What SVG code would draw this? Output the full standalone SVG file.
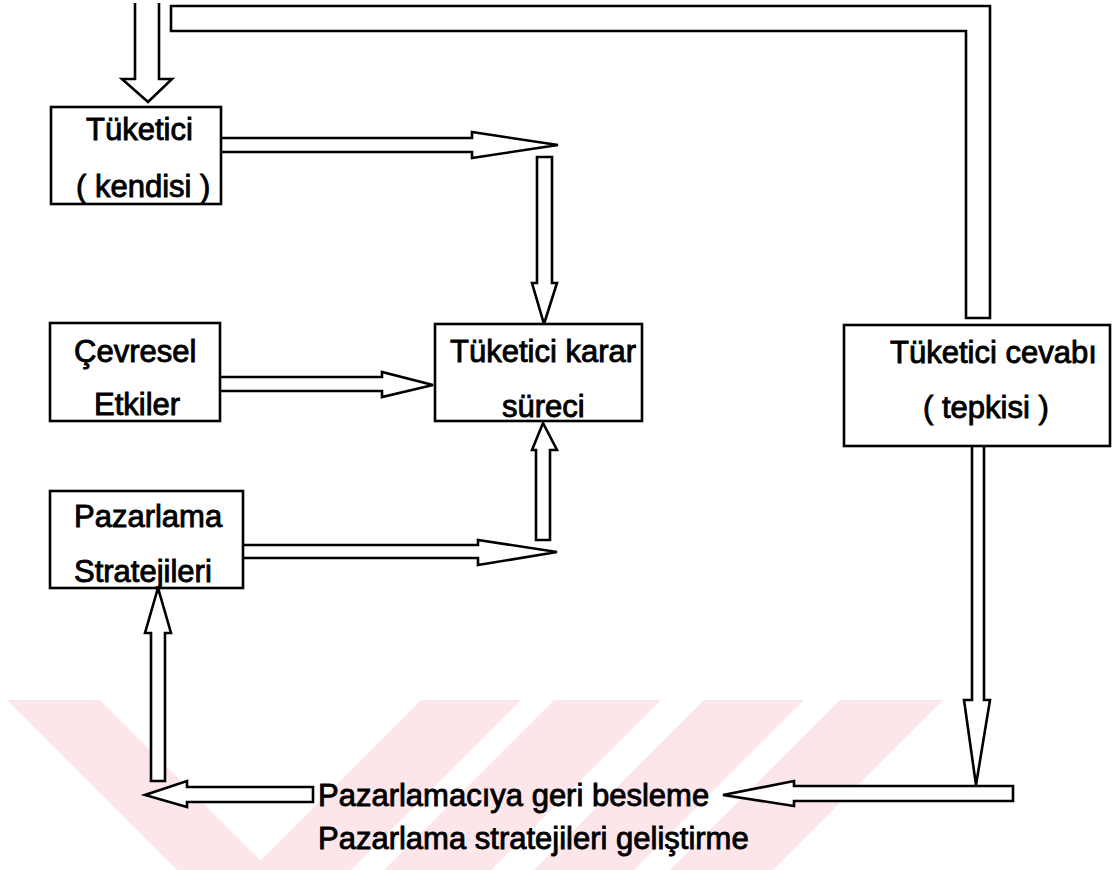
<svg xmlns="http://www.w3.org/2000/svg" width="1114" height="870" viewBox="0 0 1114 870">
  <style>
    .box { fill: #fff; stroke: #000; stroke-width: 2.6; }
    .arrow { fill: #fff; stroke: #000; stroke-width: 2.6; stroke-linejoin: miter; }
    .lbl { font-family: "Liberation Sans", Arial, sans-serif; font-size: 31px; fill: #000; stroke: #000; stroke-width: 0.9; }
    .mark { fill: #fde6ea; }
  </style>
  <rect width="1114" height="870" fill="#fff"/>

  <!-- background stripe pattern along the lower edge -->
  <g id="stripes">
    <polygon class="mark" points="7,700 100,700 270,870 177,870"/>
    <polygon class="mark" points="421,700 521,700 351,870 251,870"/>
    <polygon class="mark" points="554,700 661,700 491,870 384,870"/>
    <polygon class="mark" points="704,700 804,700 634,870 534,870"/>
    <polygon class="mark" points="840,700 943,700 773,870 670,870"/>
  </g>

  <!-- connectors: hollow block arrows -->
  <g id="connectors">
    <polygon class="arrow" points="171,6 990,6 990,318 966,318 966,31 171,31"/>
    <path class="arrow" d="M135,3 V79 H122 L148,102 L172,79 H159 V3"/>
    <path class="arrow" d="M221,138 H472 V132 L558,145 L472,158 V152 H221"/>
    <path class="arrow" d="M537,157 H552 V283 H557 L544,324 L532,283 H537 Z"/>
    <path class="arrow" d="M220,377 H382 V372 L433,385 L382,397 V391 H220"/>
    <path class="arrow" d="M243,545 H478 V540 L557,552 L478,565 V558 H243"/>
    <path class="arrow" d="M536,540 V450 H532 L543,423 L557,450 H550 V540 Z"/>
    <path class="arrow" d="M972,446 V700 H964 L976,785 L990,700 H984 V446"/>
    <path class="arrow" d="M1013,786 V801 H794 V806 L723,795 L794,781 V786 Z"/>
    <path class="arrow" d="M313,787 V802 H187 V807 L145,795 L187,781 V787 Z"/>
    <path class="arrow" d="M151,781 V633 H145 L158,588 L171,633 H165 V781 Z"/>
  </g>

  <g id="tuketici">
    <rect class="box" x="51" y="107" width="170" height="97"/>
    <text class="lbl" x="86" y="140">Tüketici</text>
    <text class="lbl" x="76" y="197">( kendisi )</text>
  </g>

  <g id="cevresel">
    <rect class="box" x="50" y="323" width="170" height="98"/>
    <text class="lbl" x="74" y="362">Çevresel</text>
    <text class="lbl" x="94" y="415">Etkiler</text>
  </g>

  <g id="pazarlama">
    <rect class="box" x="50" y="491" width="193" height="97"/>
    <text class="lbl" x="74" y="527">Pazarlama</text>
    <text class="lbl" x="74" y="582">Stratejileri</text>
  </g>

  <g id="karar">
    <rect class="box" x="435" y="324" width="207" height="97"/>
    <text class="lbl" x="450" y="362">Tüketici karar</text>
    <text class="lbl" x="502" y="417">süreci</text>
  </g>

  <g id="cevap">
    <rect class="box" x="844" y="325" width="266" height="121"/>
    <text class="lbl" x="890" y="363">Tüketici cevabı</text>
    <text class="lbl" x="923" y="418">( tepkisi )</text>
  </g>

  <g id="geri-besleme">
    <text class="lbl" x="318" y="806">Pazarlamacıya geri besleme</text>
    <text class="lbl" x="318" y="849">Pazarlama stratejileri geliştirme</text>
  </g>
</svg>
